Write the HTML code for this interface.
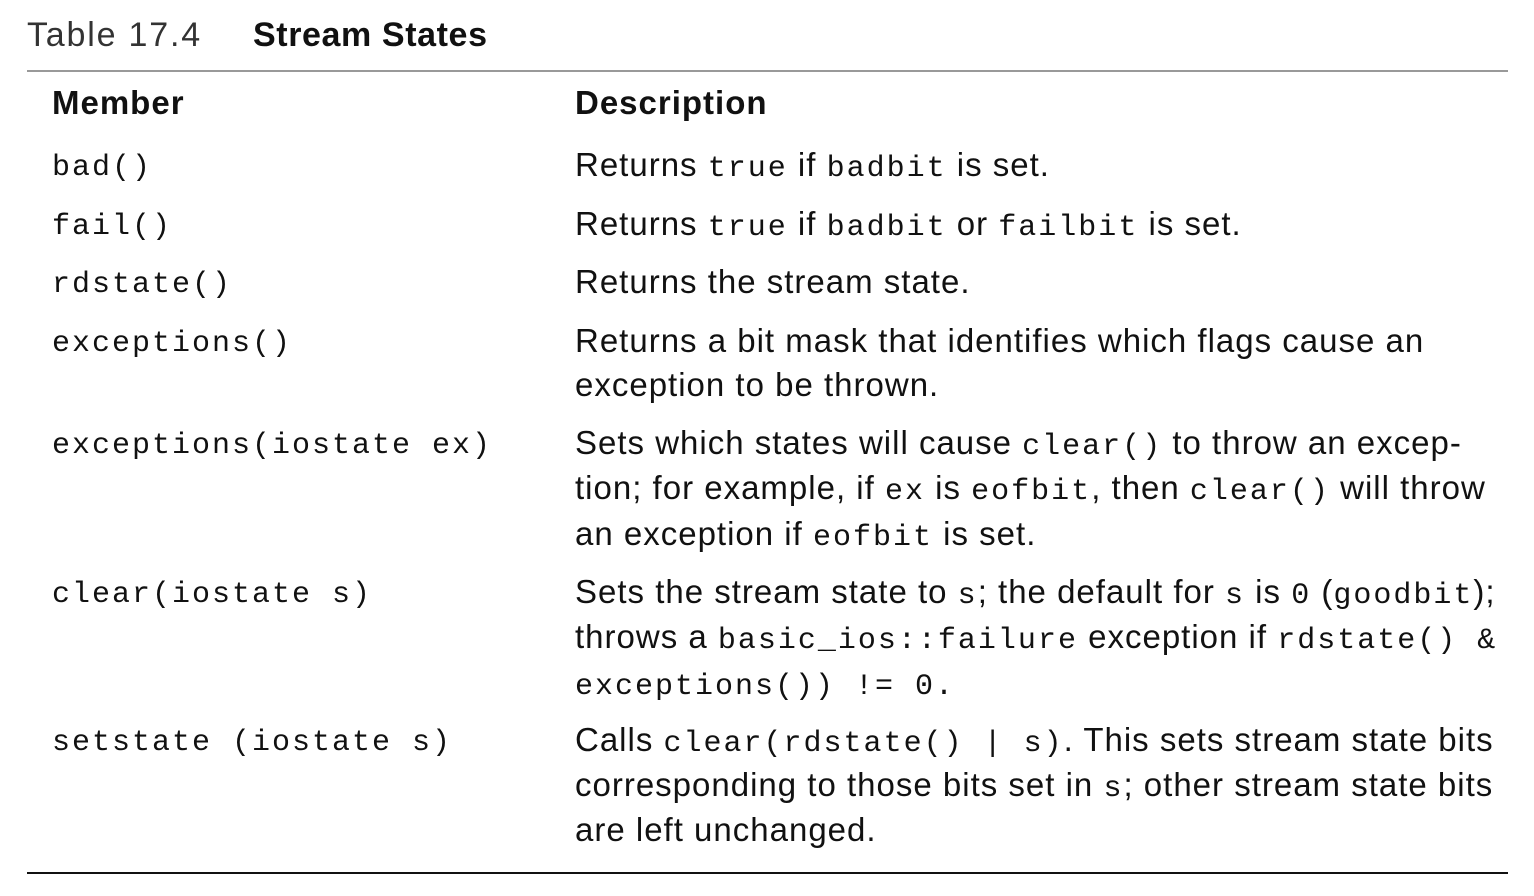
<!DOCTYPE html>
<html><head><meta charset="utf-8"><style>
body{margin:0;width:1534px;height:896px;background:#fff;position:relative;overflow:hidden;color:#111;font-family:"Liberation Sans",sans-serif;}
.l{position:absolute;white-space:nowrap;font-size:33px;letter-spacing:1px;line-height:46px;height:46px;}
.m{font-family:"Liberation Mono",monospace;font-size:30px;letter-spacing:2px;}
.lm{margin-top:3px;}
.b{font-weight:bold;}
.r{position:absolute;left:27px;width:1481px;}
</style></head><body>
<div class="l" style="left:27px;top:12px;font-size:34px;letter-spacing:1.8px;color:#333">Table 17.4</div>
<div class="l b" style="left:253px;top:12px;font-size:34px;letter-spacing:0.6px">Stream States</div>
<div class="r" style="top:70px;height:2px;background:#999"></div>
<div class="l b" style="left:52px;top:80px">Member</div>
<div class="l b" style="left:575px;top:80px">Description</div>

<div class="l m lm" style="left:52px;top:142px">bad()</div>
<div class="l" style="left:575px;top:142px">Returns <span class="m">true</span> if <span class="m">badbit</span> is set.</div>

<div class="l m lm" style="left:52px;top:201px">fail()</div>
<div class="l" style="left:575px;top:201px">Returns <span class="m">true</span> if <span class="m">badbit</span> or <span class="m">failbit</span> is set.</div>

<div class="l m lm" style="left:52px;top:259px">rdstate()</div>
<div class="l" style="left:575px;top:259px">Returns the stream state.</div>

<div class="l m lm" style="left:52px;top:318px">exceptions()</div>
<div class="l" style="left:575px;top:318px">Returns a bit mask that identifies which flags cause an</div>
<div class="l" style="left:575px;top:362px">exception to be thrown.</div>

<div class="l m lm" style="left:52px;top:420px">exceptions(iostate ex)</div>
<div class="l" style="left:575px;top:420px">Sets which states will cause <span class="m">clear()</span> to throw an excep-</div>
<div class="l" style="left:575px;top:465px">tion; for example, if <span class="m">ex</span> is <span class="m">eofbit</span>, then <span class="m">clear()</span> will throw</div>
<div class="l" style="left:575px;top:511px">an exception if <span class="m">eofbit</span> is set.</div>

<div class="l m lm" style="left:52px;top:569px">clear(iostate s)</div>
<div class="l" style="left:575px;top:569px">Sets the stream state to <span class="m">s</span>; the default for <span class="m">s</span> is <span class="m">0</span> (<span class="m">goodbit</span>);</div>
<div class="l" style="left:575px;top:614px">throws a <span class="m">basic_ios::failure</span> exception if <span class="m">rdstate() &amp;</span></div>
<div class="l m lm" style="left:575px;top:661px">exceptions()) != 0.</div>

<div class="l m lm" style="left:52px;top:717px">setstate (iostate s)</div>
<div class="l" style="left:575px;top:717px">Calls <span class="m">clear(rdstate() | s)</span>. This sets stream state bits</div>
<div class="l" style="left:575px;top:762px">corresponding to those bits set in <span class="m">s</span>; other stream state bits</div>
<div class="l" style="left:575px;top:807px">are left unchanged.</div>

<div class="r" style="top:872px;height:2px;background:#111"></div>
</body></html>
